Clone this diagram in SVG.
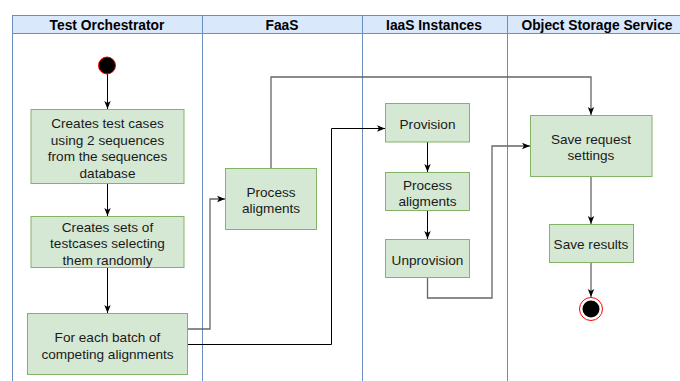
<svg xmlns="http://www.w3.org/2000/svg" width="680" height="381" viewBox="0 0 680 381">
<defs>
<marker id="ah" viewBox="0 0 8 8" refX="8" refY="4" markerWidth="8" markerHeight="8" markerUnits="userSpaceOnUse" orient="auto">
<path d="M0,0.8 L8,4 L0,7.2 L2,4 Z" fill="#000"/>
</marker>
<style>
.lane{fill:#fff;stroke:#6c8ebf;stroke-width:1}
.hdr{fill:#dae8fc;stroke:#6c8ebf;stroke-width:1}
.ht{font-family:"Liberation Sans",Arial,sans-serif;font-size:13.8px;font-weight:bold;fill:#000;text-anchor:middle}
.box{fill:#d5e8d4;stroke:#82b366;stroke-width:1}
.bt{font-family:"Liberation Sans",Arial,sans-serif;font-size:13.6px;fill:#1a1a1a;text-anchor:middle}
.c{fill:none;stroke:#000;stroke-width:1}
.cg{fill:none;stroke:#666;stroke-width:1.3}
</style>
</defs>
<rect width="680" height="381" fill="#fff"/>
<g id="lanes">
<rect class="lane" x="12.5" y="15.5" width="190" height="380"/>
<rect class="lane" x="202.5" y="15.5" width="160" height="380"/>
<rect class="lane" x="362.5" y="15.5" width="145" height="380"/>
<rect class="lane" x="507.5" y="15.5" width="180" height="380"/>
<rect class="hdr" x="12.5" y="15.5" width="190" height="18"/>
<rect class="hdr" x="202.5" y="15.5" width="160" height="18"/>
<rect class="hdr" x="362.5" y="15.5" width="145" height="18"/>
<rect class="hdr" x="507.5" y="15.5" width="180" height="18"/>
<text class="ht" x="107" y="29.5">Test Orchestrator</text>
<text class="ht" x="282" y="29.5">FaaS</text>
<text class="ht" x="434" y="29.5">IaaS Instances</text>
<text class="ht" x="597" y="29.5">Object Storage Service</text>
</g>
<g id="connectors">
<path class="c" d="M107.5,74 V109" marker-end="url(#ah)"/>
<path class="c" d="M107.5,184 V216" marker-end="url(#ah)"/>
<path class="c" d="M107.5,268 V313" marker-end="url(#ah)"/>
<path class="cg" d="M187,329 H210 V199 H225" marker-end="url(#ah)"/>
<path class="c" d="M187,344.5 H331.5 V128.5 H385" marker-end="url(#ah)"/>
<path class="cg" d="M271,168 V77 H591 V115" marker-end="url(#ah)"/>
<path class="c" d="M427.5,142 V172" marker-end="url(#ah)"/>
<path class="c" d="M427.5,210 V239" marker-end="url(#ah)"/>
<path class="cg" d="M427.5,278 V298 H492 V146 H530" marker-end="url(#ah)"/>
<path class="cg" d="M591,176 V224" marker-end="url(#ah)"/>
<path class="cg" d="M591,263 V297" marker-end="url(#ah)"/>
</g>
<g id="start">
<circle cx="107" cy="65.5" r="8.5" fill="#000" stroke="#ff0000" stroke-width="1"/>
</g>
<g id="create-test-cases">
<rect class="box" x="31" y="109.5" width="153" height="74"/>
<text class="bt" x="107.5" y="128">Creates test cases</text>
<text class="bt" x="107.5" y="144.5">using 2 sequences</text>
<text class="bt" x="107.5" y="161">from the sequences</text>
<text class="bt" x="107.5" y="177.5">database</text>
</g>
<g id="create-sets">
<rect class="box" x="31" y="216.5" width="153" height="51"/>
<text class="bt" x="107.5" y="231.5">Creates sets of</text>
<text class="bt" x="107.5" y="248">testcases selecting</text>
<text class="bt" x="107.5" y="264.5">them randomly</text>
</g>
<g id="for-each-batch">
<rect class="box" x="27.5" y="313.5" width="160" height="61"/>
<text class="bt" x="107.5" y="342">For each batch of</text>
<text class="bt" x="107.5" y="358.5">competing alignments</text>
</g>
<g id="faas-process">
<rect class="box" x="225.5" y="168.5" width="91" height="61"/>
<text class="bt" x="271" y="196.5">Process</text>
<text class="bt" x="271" y="213">aligments</text>
</g>
<g id="provision">
<rect class="box" x="385.5" y="103.5" width="84" height="38.5"/>
<text class="bt" x="427.5" y="128.5">Provision</text>
</g>
<g id="iaas-process">
<rect class="box" x="385.5" y="172.5" width="84" height="38"/>
<text class="bt" x="427.5" y="189.5">Process</text>
<text class="bt" x="427.5" y="206">aligments</text>
</g>
<g id="unprovision">
<rect class="box" x="385.5" y="239.5" width="84" height="38"/>
<text class="bt" x="427.5" y="264.5">Unprovision</text>
</g>
<g id="save-request">
<rect class="box" x="530.5" y="115.5" width="121.5" height="61"/>
<text class="bt" x="591" y="143.5">Save request</text>
<text class="bt" x="591" y="160">settings</text>
</g>
<g id="save-results">
<rect class="box" x="549.5" y="224.5" width="84" height="38"/>
<text class="bt" x="591" y="248.5">Save results</text>
</g>
<g id="end">
<circle cx="591" cy="309" r="11.5" fill="none" stroke="#ff0000" stroke-width="1"/>
<circle cx="591" cy="309" r="8.5" fill="#000"/>
</g>
</svg>
